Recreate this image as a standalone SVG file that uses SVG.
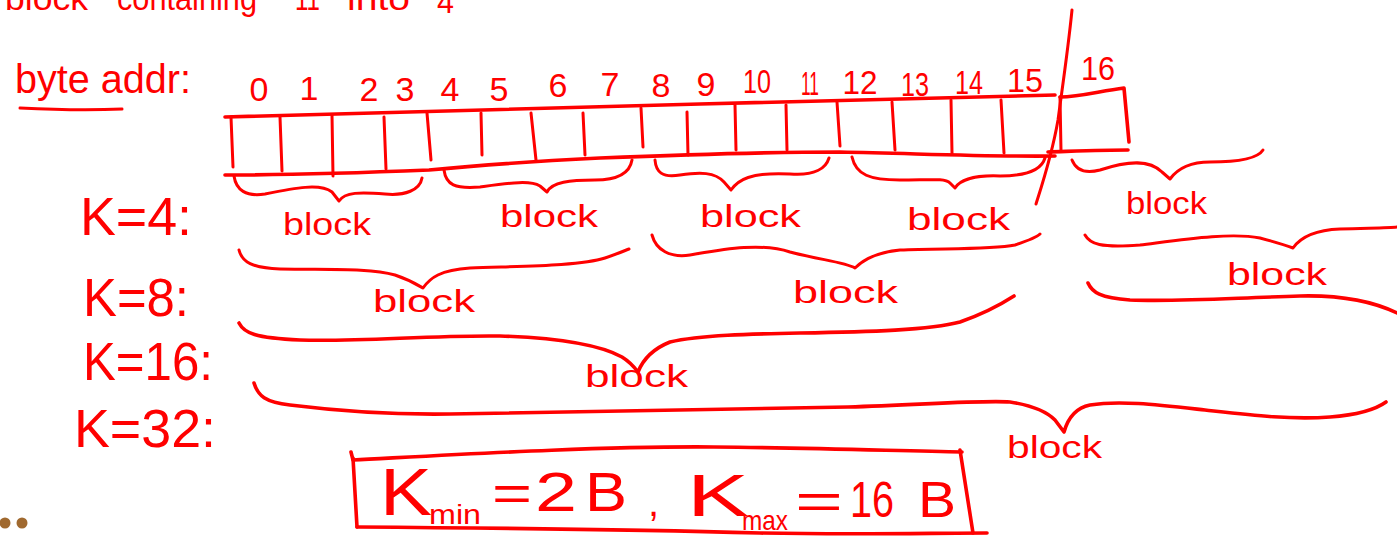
<svg xmlns="http://www.w3.org/2000/svg" width="1397" height="538" viewBox="0 0 1397 538">
  <style>
    .ink { fill: none; stroke: #ff0000; stroke-width: 3; stroke-linecap: round; stroke-linejoin: round; }
    .thick { stroke-width: 3.6; }
    .hand { fill: #ff0000; font-family: "Liberation Sans", "DejaVu Sans", sans-serif; }
    .num { font-size: 34px; text-anchor: middle; }
    .blk { font-size: 32px; }
    .klab { font-size: 54px; }
  </style>
  <rect width="1397" height="538" fill="#ffffff"/>

  <!-- heading line, clipped by the top edge -->
  <g id="heading" class="hand" font-size="34">
    <text x="5" y="10" textLength="83" lengthAdjust="spacingAndGlyphs">block</text>
    <text x="117" y="10" textLength="140" lengthAdjust="spacingAndGlyphs">containing</text>
    <text x="295" y="10" textLength="25" lengthAdjust="spacingAndGlyphs">11</text>
    <text x="347" y="10" textLength="63" lengthAdjust="spacingAndGlyphs">into</text>
    <text x="437" y="13" textLength="17" lengthAdjust="spacingAndGlyphs">4</text>
  </g>

  <!-- byte address label -->
  <g id="byte-addr">
    <text class="hand" x="15" y="93" font-size="40" textLength="176" lengthAdjust="spacingAndGlyphs">byte addr:</text>
    <path class="ink" d="M20,108 C60,110 100,110 122,109"/>
  </g>

  <!-- address numbers above the cells -->
  <g id="addresses" class="hand num">
    <text x="259" y="101">0</text>
    <text x="309" y="100">1</text>
    <text x="369" y="101">2</text>
    <text x="405" y="101">3</text>
    <text x="450" y="101">4</text>
    <text x="499" y="101">5</text>
    <text x="558" y="97">6</text>
    <text x="610" y="96">7</text>
    <text x="661" y="97">8</text>
    <text x="706" y="96">9</text>
    <text x="757" y="93" textLength="28" lengthAdjust="spacingAndGlyphs">10</text>
    <text x="810" y="95" textLength="18" lengthAdjust="spacingAndGlyphs">11</text>
    <text x="860" y="94" textLength="35" lengthAdjust="spacingAndGlyphs">12</text>
    <text x="915" y="96" textLength="28" lengthAdjust="spacingAndGlyphs">13</text>
    <text x="969" y="94" textLength="28" lengthAdjust="spacingAndGlyphs">14</text>
    <text x="1025" y="92" textLength="36" lengthAdjust="spacingAndGlyphs">15</text>
    <text x="1098" y="80" textLength="34" lengthAdjust="spacingAndGlyphs">16</text>
  </g>

  <!-- byte cells 0..15 -->
  <g id="cells">
    <path class="ink thick" d="M225,117 C400,112 560,107 700,104 C850,100 960,97 1055,95"/>
    <path class="ink thick" d="M225,175 C300,175 380,172 429,170 C470,166 520,162 600,158 C700,154 780,152 840,152 C930,154 1000,157 1055,156"/>
    <path class="ink" d="M231,117 L233,167"/>
    <path class="ink" d="M280,117 L282,171"/>
    <path class="ink" d="M332,115 L333,176"/>
    <path class="ink" d="M384,117 L386,169"/>
    <path class="ink" d="M427,113 L431,160"/>
    <path class="ink" d="M481,113 L482,155"/>
    <path class="ink" d="M531,113 L536,160"/>
    <path class="ink" d="M583,113 L585,155"/>
    <path class="ink" d="M641,108 L643,147"/>
    <path class="ink" d="M687,112 L688,155"/>
    <path class="ink" d="M735,105 L736,150"/>
    <path class="ink" d="M786,105 L787,150"/>
    <path class="ink" d="M837,102 L840,146"/>
    <path class="ink" d="M892,102 L895,150"/>
    <path class="ink" d="M951,100 L952,153"/>
    <path class="ink" d="M1001,100 L1004,153"/>
  </g>

  <!-- cell 16, past the cut -->
  <g id="cell-16">
    <path class="ink thick" d="M1060,97 C1080,97 1100,91 1124,88 L1129,142"/>
    <path class="ink thick" d="M1048,152 C1080,151 1105,150 1128,150"/>
    <path class="ink" d="M1060,97 L1061,151"/>
  </g>

  <!-- cut line between byte 15 and byte 16 -->
  <g id="cut-line">
    <path class="ink" d="M1072,10 C1068,50 1062,90 1058,120 C1052,155 1042,185 1036,204"/>
  </g>

  <!-- row labels -->
  <g id="labels" class="hand klab">
    <text x="80" y="235" textLength="112" lengthAdjust="spacingAndGlyphs">K=4:</text>
    <text x="83" y="316" textLength="106" lengthAdjust="spacingAndGlyphs">K=8:</text>
    <text x="83" y="380" textLength="130" lengthAdjust="spacingAndGlyphs">K=16:</text>
    <text x="74" y="447" textLength="142" lengthAdjust="spacingAndGlyphs">K=32:</text>
  </g>

  <!-- grouping braces -->
  <g id="connectors">
    <!-- K=4 -->
    <path class="ink" d="M234,176 C236,190 246,197 265,194 C295,188 320,183 332,192 L339,201 C345,192 360,192 385,194 C405,196 420,190 422,178"/>
    <path class="ink" d="M444,170 C446,185 455,189 480,187 C510,183 530,180 540,186 L547,192 C552,182 570,180 595,180 C620,180 630,172 632,160"/>
    <path class="ink" d="M655,160 C656,172 662,178 680,175 C700,172 715,172 724,182 L731,190 C738,180 750,172 790,174 C815,176 826,168 829,158"/>
    <path class="ink" d="M852,157 C856,175 870,180 900,180 C930,180 945,178 950,183 L955,188 C960,180 975,175 1000,176 C1030,176 1042,168 1045,158"/>
    <path class="ink" d="M1072,160 C1076,170 1085,174 1100,170 C1130,160 1150,160 1162,172 L1170,179 C1178,168 1190,162 1210,162 C1240,162 1258,158 1263,150"/>
    <!-- K=8 -->
    <path class="ink" d="M239,250 C242,262 252,268 280,269 C330,270 370,268 395,275 C410,280 418,285 423,288 C430,278 440,270 470,268 C520,266 580,266 605,258 C620,253 626,250 629,249"/>
    <path class="ink" d="M652,235 C656,250 670,258 690,255 C720,250 760,242 790,252 C820,260 845,262 855,268 C865,258 880,252 900,250 C940,248 990,250 1015,245 C1030,240 1038,236 1040,234"/>
    <path class="ink" d="M1085,235 C1090,244 1100,248 1140,245 C1180,240 1230,232 1260,238 C1275,242 1285,245 1293,248 C1300,238 1315,230 1340,229 C1370,228 1390,228 1397,227"/>
    <!-- K=16 -->
    <path class="ink thick" d="M239,323 C244,333 255,338 300,340 C360,342 430,335 500,336 C560,338 600,345 622,357 C630,362 635,368 638,372 C642,362 650,350 670,342 C700,335 750,334 800,333 C870,332 930,330 960,322 C980,315 1000,305 1014,296"/>
    <path class="ink thick" d="M1088,283 C1092,292 1100,298 1130,300 C1180,302 1230,298 1300,296 C1340,295 1370,300 1397,313"/>
    <!-- K=32 -->
    <path class="ink thick" d="M254,383 C258,396 265,402 290,405 C330,410 380,415 450,414 C560,412 700,410 848,407 C920,405 980,400 1010,402 C1030,405 1045,410 1055,420 L1064,432 C1068,418 1075,408 1090,405 C1120,400 1160,405 1205,410 C1250,415 1290,420 1330,417 C1355,415 1375,410 1386,402"/>
  </g>

  <!-- block labels -->
  <g id="block-labels" class="hand blk">
    <text x="283" y="235" textLength="88" lengthAdjust="spacingAndGlyphs">block</text>
    <text x="500" y="227" textLength="98" lengthAdjust="spacingAndGlyphs">block</text>
    <text x="700" y="227" textLength="101" lengthAdjust="spacingAndGlyphs">block</text>
    <text x="907" y="230" textLength="103" lengthAdjust="spacingAndGlyphs">block</text>
    <text x="1126" y="214" textLength="81" lengthAdjust="spacingAndGlyphs">block</text>
    <text x="373" y="312" textLength="102" lengthAdjust="spacingAndGlyphs">block</text>
    <text x="793" y="303" textLength="105" lengthAdjust="spacingAndGlyphs">block</text>
    <text x="1227" y="285" textLength="100" lengthAdjust="spacingAndGlyphs">block</text>
    <text x="585" y="387" textLength="103" lengthAdjust="spacingAndGlyphs">block</text>
    <text x="1007" y="458" textLength="95" lengthAdjust="spacingAndGlyphs">block</text>
  </g>

  <!-- boxed result -->
  <g id="result">
    <path class="ink thick" d="M351,452 L353,460 C450,455 600,446 714,447 C820,448 900,451 962,452"/>
    <path class="ink thick" d="M353,458 L357,527"/>
    <path class="ink thick" d="M960,450 L973,533"/>
    <path class="ink thick" d="M357,527 C500,528 650,530 760,533 C860,535 930,533 987,533"/>
    <g class="hand">
      <text x="380" y="515" font-size="66" textLength="52" lengthAdjust="spacingAndGlyphs">K</text>
      <text x="429" y="524" font-size="28" textLength="52" lengthAdjust="spacingAndGlyphs">min</text>
      <text x="492" y="510" font-size="50" textLength="40" lengthAdjust="spacingAndGlyphs">=</text>
      <text x="535" y="511" font-size="56" textLength="42" lengthAdjust="spacingAndGlyphs">2</text>
      <text x="585" y="511" font-size="56" textLength="42" lengthAdjust="spacingAndGlyphs">B</text>
      <text x="648" y="516" font-size="40">,</text>
      <text x="687" y="516" font-size="60" textLength="62" lengthAdjust="spacingAndGlyphs">K</text>
      <text x="742" y="530" font-size="28" textLength="46" lengthAdjust="spacingAndGlyphs">max</text>
      <text x="795" y="518" font-size="50" textLength="48" lengthAdjust="spacingAndGlyphs">=</text>
      <text x="850" y="517" font-size="50" textLength="44" lengthAdjust="spacingAndGlyphs">16</text>
      <text x="918" y="517" font-size="50" textLength="38" lengthAdjust="spacingAndGlyphs">B</text>
    </g>
  </g>

  <!-- page markers -->
  <g id="dots" fill="#a0692f">
    <circle cx="5" cy="523" r="5.5"/>
    <circle cx="22" cy="523" r="5.5"/>
  </g>
</svg>
